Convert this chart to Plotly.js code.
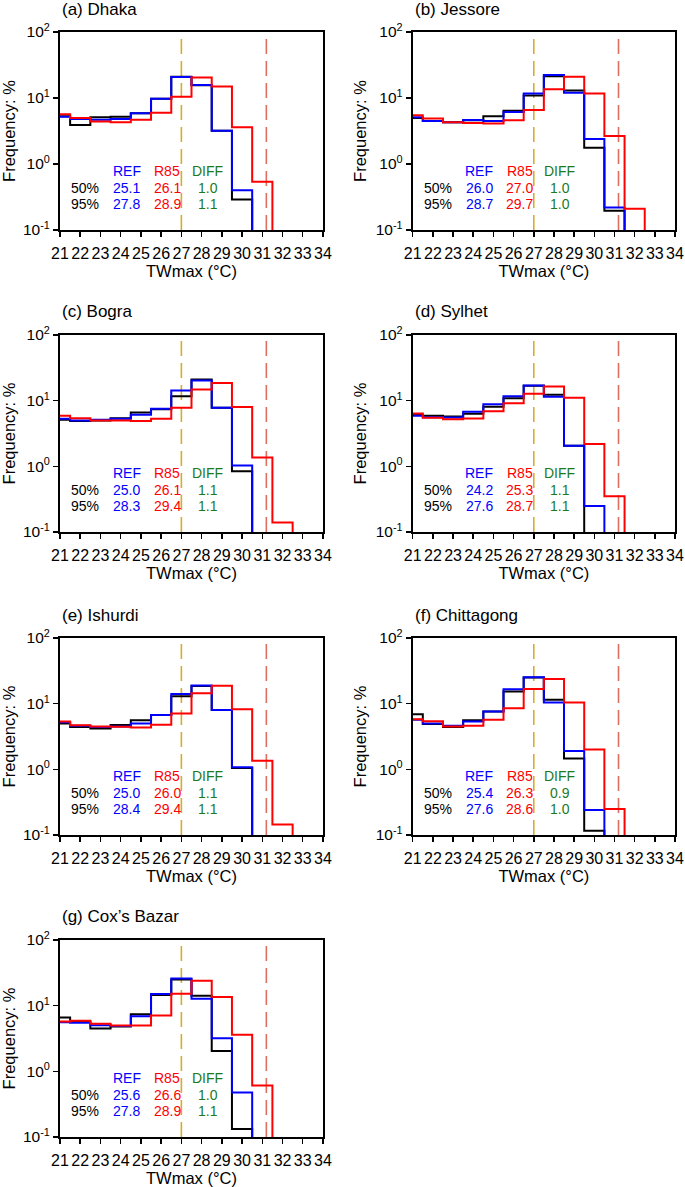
<!DOCTYPE html>
<html>
<head>
<meta charset="utf-8">
<script src="https://cdn.plot.ly/plotly-3.0.1.min.js"></script>
<style>
  body { margin: 0; background: #fff; }
  #chart { width: 685px; height: 1187px; }
</style>
</head>
<body>
<div id="chart"></div>
<script>
// bin centres (°C)
const bins = [21, 22, 23, 24, 25, 26, 27, 28, 29, 30, 31, 32, 33, 34];
const stationNames = ["(a) Dhaka", "(b) Jessore", "(c) Bogra", "(d) Sylhet", "(e) Ishurdi", "(f) Chittagong", "(g) Cox\u2019s Bazar"];

// frequency (%) per bin, black / REF (blue) / R85 (red)
const dhakaObs = [5.3, 3.9, 5.1, 5.2, 5.9, 9.8, 21, 15.6, 3.2, 0.29, 0, 0, 0, 0];
const dhakaRef = [5.2, 4.8, 4.7, 4.8, 5.9, 9.8, 20.9, 15.8, 3.2, 0.40, 0, 0, 0, 0];
const dhakaR85 = [5.7, 5.0, 4.4, 4.3, 4.7, 6.0, 10.5, 20.5, 14.9, 3.6, 0.54, 0, 0, 0];

const jessoreObs = [5.0, 4.5, 4.3, 4.6, 5.3, 6.4, 10.9, 21.4, 13.0, 1.76, 0.196, 0, 0, 0];
const jessoreRef = [5.1, 4.5, 4.3, 4.65, 4.5, 6.15, 11.7, 22.4, 12.0, 2.4, 0.22, 0, 0, 0];
const jessoreR85 = [5.5, 4.9, 4.3, 4.2, 4.1, 4.6, 6.6, 13.6, 21, 11.7, 2.65, 0.21, 0, 0];

const bograObs = [5.1, 4.9, 5.0, 5.4, 6.6, 7.4, 11.7, 21, 7.8, 0.84, 0, 0, 0, 0];
const bograRef = [5.3, 5.0, 5.1, 5.3, 6.1, 7.5, 14.3, 20.2, 7.8, 1.03, 0, 0, 0, 0];
const bograR85 = [5.9, 5.4, 5.0, 5.0, 4.9, 5.3, 7.8, 14.8, 18.6, 8.0, 1.36, 0.14, 0, 0];

const sylhetObs = [6.1, 5.9, 5.75, 6.3, 8.1, 10.9, 16.8, 12.3, 2.05, 0, 0, 0, 0, 0];
const sylhetRef = [5.9, 5.6, 5.55, 6.75, 8.8, 11.7, 17, 11.5, 2.05, 0.25, 0, 0, 0, 0];
const sylhetR85 = [6.4, 5.5, 5.2, 5.35, 6.9, 9.1, 12.7, 16.4, 11.1, 2.18, 0.35, 0, 0, 0];

const ishurdiObs = [5.0, 4.4, 4.2, 4.75, 5.6, 6.75, 13, 18.6, 8.0, 1.05, 0, 0, 0, 0];
const ishurdiRef = [5.2, 4.6, 4.4, 4.5, 5.0, 6.75, 14.1, 19, 8.0, 1.08, 0, 0, 0, 0];
const ishurdiR85 = [5.35, 4.7, 4.5, 4.45, 4.35, 4.8, 7.1, 14.4, 18.8, 8.2, 1.35, 0.145, 0, 0];

const chittagongObs = [6.9, 4.9, 4.4, 5.6, 7.6, 15.3, 25, 11.5, 1.46, 0.116, 0, 0, 0, 0];
const chittagongRef = [5.7, 5.0, 4.6, 5.35, 7.6, 16.6, 25.2, 10.4, 1.9, 0.24, 0, 0, 0, 0];
const chittagongR85 = [5.8, 5.4, 4.5, 4.6, 5.7, 8.5, 16.8, 23.8, 10.4, 2.0, 0.25, 0, 0, 0];

const coxsObs = [6.6, 5.75, 4.5, 4.8, 7.4, 14.5, 25, 14.2, 2.05, 0.133, 0, 0, 0, 0];
const coxsRef = [5.6, 5.5, 5.05, 4.9, 6.9, 15, 26, 12.7, 3.2, 0.475, 0, 0, 0, 0];
const coxsR85 = [5.75, 5.9, 5.3, 5.0, 5.0, 7.1, 15.2, 24, 13.5, 3.6, 0.61, 0, 0, 0];

// 50th / 95th percentiles
const ref50 = [25.1, 26.0, 25.0, 24.2, 25.0, 25.4, 25.6];
const ref95 = [27.8, 28.7, 28.3, 27.6, 28.4, 27.6, 27.8];
const r8550 = [26.1, 27.0, 26.1, 25.3, 26.0, 26.3, 26.6];
const r8595 = [28.9, 29.7, 29.4, 28.7, 29.4, 28.6, 28.9];
const diff50 = [1.0, 1.0, 1.1, 1.1, 1.1, 0.9, 1.0];
const diff95 = [1.1, 1.0, 1.1, 1.1, 1.1, 1.0, 1.1];

// reference thresholds (°C)
const thresholds = [27, 31.2];

const obsSeries = [dhakaObs, jessoreObs, bograObs, sylhetObs, ishurdiObs, chittagongObs, coxsObs];
const refSeries = [dhakaRef, jessoreRef, bograRef, sylhetRef, ishurdiRef, chittagongRef, coxsRef];
const r85Series = [dhakaR85, jessoreR85, bograR85, sylhetR85, ishurdiR85, chittagongR85, coxsR85];

const FONT = "'Liberation Sans', Arial, Helvetica, sans-serif";
const xDomains = [[0.0876, 0.4715], [0.6025, 0.9854]];
const yDomains = [[0.8062, 0.9730], [0.5518, 0.7178], [0.2965, 0.4625], [0.0421, 0.2081]];
const thresholdColors = ["#D6AD2B", "#DE6F5E"];

// empty bins can't sit on a log axis, push them below the range
function floorZeros(arr) {
  return arr.map(v => v > 0 ? v : 1e-3);
}

let traces = [];
let shapes = [];
let annotations = [];
let layout = {
  width: 685, height: 1187,
  margin: {l: 0, r: 0, t: 0, b: 0},
  paper_bgcolor: "#fff",
  plot_bgcolor: "#fff",
  showlegend: false,
  font: {family: FONT, color: "#000"}
};

for (let i = 0; i < stationNames.length; i++) {
  const n = i === 0 ? "" : String(i + 1);
  const xa = "x" + n, ya = "y" + n;
  const col = i % 2, row = Math.floor(i / 2);
  const yd = yDomains[row];

  [[obsSeries[i], "#000000"], [refSeries[i], "#0000FF"], [r85Series[i], "#FF0000"]].forEach(function(s) {
    traces.push({
      x: bins, y: floorZeros(s[0]),
      type: "scatter", mode: "lines",
      line: {shape: "hvh", color: s[1], width: 2},
      xaxis: xa, yaxis: ya, hoverinfo: "x+y"
    });
  });

  layout["xaxis" + n] = {
    domain: xDomains[col], anchor: ya,
    range: [21, 34], tickvals: bins,
    ticks: "outside", ticklen: 5, tickwidth: 1.5, tickcolor: "#000",
    ticklabelstandoff: 3,
    showline: true, mirror: true, linewidth: 2, linecolor: "#000",
    showgrid: false, zeroline: false,
    tickfont: {size: 16, family: FONT},
    title: {text: "TWmax (\u00B0C)", font: {size: 16.5, family: FONT}, standoff: 2}
  };
  layout["yaxis" + n] = {
    domain: yd, anchor: xa,
    type: "log", range: [-1, 2],
    tickvals: [0.1, 1, 10, 100],
    ticktext: ["10<sup>-1</sup>", "10<sup>0</sup>", "10<sup>1</sup>", "10<sup>2</sup>"],
    ticks: "outside", ticklen: 5, tickwidth: 1.5, tickcolor: "#000",
    showline: true, mirror: true, linewidth: 2, linecolor: "#000",
    showgrid: false, zeroline: false,
    tickfont: {size: 15.5, family: FONT},
    title: {text: "Frequency: %", font: {size: 16.5, family: FONT}, standoff: 5}
  };

  thresholds.forEach(function(t, k) {
    shapes.push({
      type: "line", xref: xa, yref: "paper",
      x0: t, x1: t, y0: yd[0], y1: yd[1],
      line: {color: thresholdColors[k], width: 1.6, dash: "15px,7px"},
      layer: "below"
    });
  });

  annotations.push({
    text: stationNames[i], xref: "paper", yref: "paper",
    x: xDomains[col][0], y: yd[1], xanchor: "left", yanchor: "middle", yshift: 23,
    showarrow: false, font: {size: 17, family: FONT}
  });

  // stats table inside the panel: [x in °C, height as fraction of panel, text, colour]
  const cells = [
    [24.3, 0.30, "REF", "#0000FF"], [26.3, 0.30, "R85", "#FF0000"], [28.3, 0.30, "DIFF", "#1C7A1C"],
    [22.25, 0.213, "50%", "#000"], [24.3, 0.213, ref50[i].toFixed(1), "#0000FF"],
    [26.3, 0.213, r8550[i].toFixed(1), "#FF0000"], [28.3, 0.213, diff50[i].toFixed(1), "#1C7A1C"],
    [22.25, 0.133, "95%", "#000"], [24.3, 0.133, ref95[i].toFixed(1), "#0000FF"],
    [26.3, 0.133, r8595[i].toFixed(1), "#FF0000"], [28.3, 0.133, diff95[i].toFixed(1), "#1C7A1C"]
  ];
  cells.forEach(function(c) {
    annotations.push({
      text: c[2], xref: xa, yref: "paper",
      x: c[0], y: yd[0] + c[1] * (yd[1] - yd[0]), xanchor: "center", yanchor: "middle",
      showarrow: false, font: {size: 14, family: FONT, color: c[3]}
    });
  });
}

layout.shapes = shapes;
layout.annotations = annotations;

Plotly.newPlot("chart", traces, layout, {displayModeBar: false, staticPlot: true});
</script>
</body>
</html>
